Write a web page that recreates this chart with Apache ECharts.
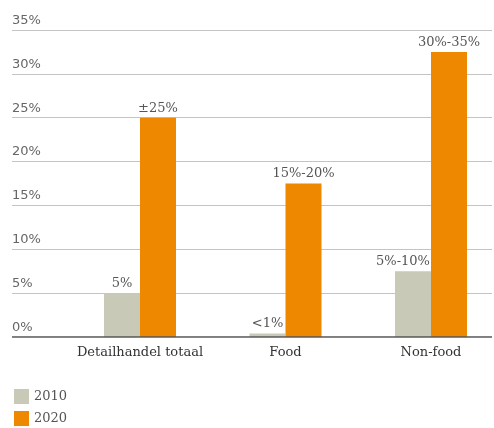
<!DOCTYPE html>
<html><head><meta charset="utf-8">
<script src="https://cdn.jsdelivr.net/npm/echarts@6/dist/echarts.min.js"></script>
<style>html,body{margin:0;padding:0;background:#fff}#c{width:494px;height:428px}</style>
</head><body><div id="c"></div>
<script>
const categories = ['Detailhandel totaal', 'Food', 'Non-food'];
const seriesNames = ['2010', '2020'];
const values2010 = [5, 0.4, 7.5];
const values2020 = [25, 17.5, 32.5];
const labels2010 = ['5%', '<1%', '5%-10%'];
const labels2020 = ['±25%', '15%-20%', '30%-35%'];
const yTicks = [0, 5, 10, 15, 20, 25, 30, 35];

const serif = '"DejaVu Serif", serif';
const textColor = '#555';
const chart = echarts.init(document.getElementById('c'), null, {renderer: 'canvas'});
chart.setOption({
  animation: false,
  backgroundColor: '#fff',
  textStyle: {fontFamily: serif},
  grid: [
    {left: 12, right: 2, top: 30, bottom: 91},
    {left: 140, right: 63, top: 30, bottom: 91}
  ],
  legend: {
    orient: 'vertical', left: 14, top: 389, padding: 0,
    itemWidth: 15, itemHeight: 15, itemGap: 7,
    icon: 'rect',
    textStyle: {fontFamily: serif, fontSize: 13, color: textColor},
    data: seriesNames
  },
  xAxis: [
    {gridIndex: 0, type: 'value', min: 0, max: 1, show: false},
    {gridIndex: 1, type: 'category', data: categories, boundaryGap: false,
     axisLine: {show: false}, axisTick: {show: false},
     axisLabel: {interval: 0, fontFamily: serif, fontSize: 13, color: '#333', margin: 9}}
  ],
  yAxis: [
    {gridIndex: 0, type: 'value', min: yTicks[0], max: yTicks[yTicks.length-1], interval: 5,
     axisLine: {show: false}, axisTick: {show: false},
     splitLine: {lineStyle: {color: '#c4c4c4', width: 1.2}},
     axisLabel: {inside: true, margin: 0, verticalAlign: 'bottom', padding: [0,0,3,0],
       fontFamily: '"DejaVu Sans", sans-serif', fontSize: 13, color: '#666',
       formatter: v => v + '%'}},
    {gridIndex: 1, type: 'value', min: 0, max: 35, interval: 5, show: false}
  ],
  series: [
    {type: 'line', xAxisIndex: 0, yAxisIndex: 0, data: [[0,0],[1,0]], symbol: 'none',
     lineStyle: {color: '#555', width: 1.5}, silent: true, z: 5,
     name: '_axis'},
    {name: seriesNames[0], type: 'bar', xAxisIndex: 1, yAxisIndex: 1, clip: false,
     data: values2010.map((v, i) => i === 2 ? {value: v, label: {offset: [-10, 0]}} : v),
     barWidth: 36, barGap: '0%',
     itemStyle: {color: '#c9c9b8'},
     label: {show: true, position: 'top', distance: 3, fontFamily: serif, fontSize: 13, color: textColor,
       formatter: p => labels2010[p.dataIndex]}},
    {name: seriesNames[1], type: 'bar', xAxisIndex: 1, yAxisIndex: 1, clip: false,
     data: values2020, barWidth: 36, barGap: '0%',
     itemStyle: {color: '#ee8800'},
     label: {show: true, position: 'top', distance: 3, fontFamily: serif, fontSize: 13, color: textColor,
       formatter: p => labels2020[p.dataIndex]}}
  ]
});
</script></body></html>
